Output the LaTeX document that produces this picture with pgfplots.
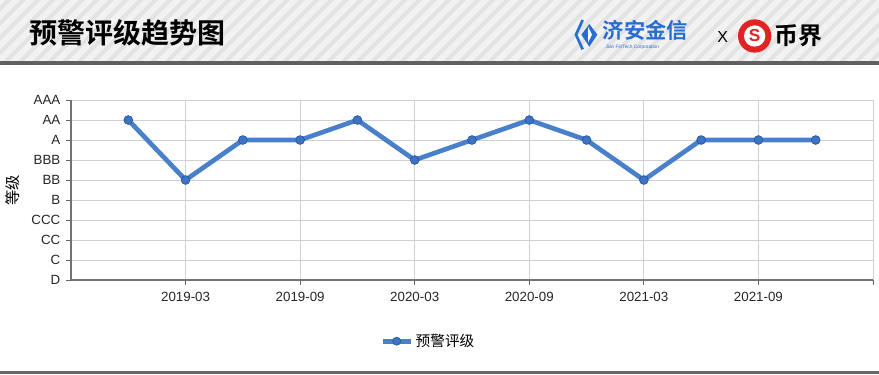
\documentclass[border=0pt]{standalone}
\usepackage{pgfplots}
\pgfplotsset{compat=1.18}
\usepackage{fontspec}
\setmainfont{Liberation Sans}
\newfontfamily\cjk{Noto Sans CJK SC}
\newfontfamily\cjkb{Noto Sans CJK SC Bold}
\definecolor{lineblue}{RGB}{72,128,204}
\definecolor{markblue}{RGB}{60,115,195}
\definecolor{markedge}{RGB}{40,85,160}
\definecolor{logoblue}{RGB}{40,110,210}
\definecolor{logored}{RGB}{225,35,35}
\begin{document}
\begin{tikzpicture}[x=1pt,y=1pt]
% canvas
\fill[white] (0,0) rectangle (659.25,-281.25);
\useasboundingbox (0,0) rectangle (659.25,-281.25);
% header
\begin{scope}
\clip (0,0) rectangle (659.25,-45.75);
\fill[black!11] (0,0) rectangle (659.25,-45.75);
\foreach \i in {-60,-49,...,700} {
  \draw[black!5, line width=4.5pt] (\i,-50) -- (\i+55,5);
}
\end{scope}
\fill[black!62] (0,-45.75) rectangle (659.25,-48.75);
\node[anchor=west, inner sep=0pt] at (22,-25) {\cjkb\fontsize{21}{24}\selectfont 预警评级趋势图};
% logo 1
\fill[logoblue] (436,-26) -- (442,-18) -- (448,-26) -- (442,-35) -- cycle;
\draw[logoblue, line width=2pt] (437,-15) -- (432,-26) -- (437,-37);
\fill[white] (441,-20) -- (444,-26) -- (441,-32) -- cycle;
\node[anchor=west, inner sep=0pt, text=logoblue] at (452,-23) {\cjkb\fontsize{16}{18}\selectfont 济安金信};
\node[anchor=west, inner sep=0pt, text=logoblue] at (454,-35.5) {\fontsize{3.6}{4}\selectfont Jian FinTech Corporation};
\node[inner sep=0pt] at (542,-28) {\fontsize{12}{13}\selectfont X};
% logo 2
\fill[logored] (566,-27) circle (12.5);
\fill[white] (566,-27) circle (8);
\node[inner sep=0pt, text=logored] at (566,-27) {\bfseries\fontsize{13}{14}\selectfont S};
\node[anchor=west, inner sep=0pt] at (581,-27) {\cjkb\fontsize{18}{20}\selectfont 币界};
% bottom line
\fill[black!60] (0,-278.25) rectangle (659.25,-280.5);
% y label
\node[rotate=90, inner sep=0pt] at (9.5,-142.5) {\cjk\fontsize{11.5}{13}\selectfont 等级};
\begin{axis}[
  at={(53.25pt,-210pt)}, anchor=south west,
  scale only axis, width=601.5pt, height=135pt,
  xmin=0, xmax=42, ymin=0, ymax=9,
  axis x line*=bottom, axis y line*=left,
  axis line style={black!55, line width=0.8pt, -},
  xtick={6,12,18,24,30,36,42},
  xticklabels={2019-03,2019-09,2020-03,2020-09,2021-03,2021-09,},
  ytick={0,1,2,3,4,5,6,7,8,9},
  yticklabels={D,C,CC,CCC,B,BB,BBB,A,AA,AAA},
  tick align=outside,
  major tick length=3.5pt,
  tick style={black!60, line width=0.6pt},
  grid=major,
  grid style={black!18, line width=0.6pt},
  ticklabel style={font=\fontsize{10}{12}\selectfont, text=black!85},
  xticklabel style={yshift=-2pt},
  yticklabel style={xshift=-1pt},
  clip=false,
  legend style={draw=none, fill=none, at={(0.446,-0.34)}, anchor=center,
    font=\cjk\fontsize{11}{12}\selectfont, legend cell align=left},
  legend image code/.code={
    \draw[lineblue, line width=3.5pt] (0pt,0pt) -- (21pt,0pt);
    \draw[markedge, fill=markblue, line width=0.5pt] (10.5pt,0pt) circle (3pt);
  },
]
\addplot[lineblue, line width=3.5pt, mark=*, mark size=3.3pt,
  mark options={fill=markblue, draw=markedge, line width=0.5pt}]
  coordinates {
  (3,8) (6,5) (9,7) (12,7) (15,8) (18,6) (21,7) (24,8) (27,7) (30,5) (33,7) (36,7) (39,7)
  };
\addlegendentry{预警评级}
\end{axis}
\end{tikzpicture}
\end{document}
